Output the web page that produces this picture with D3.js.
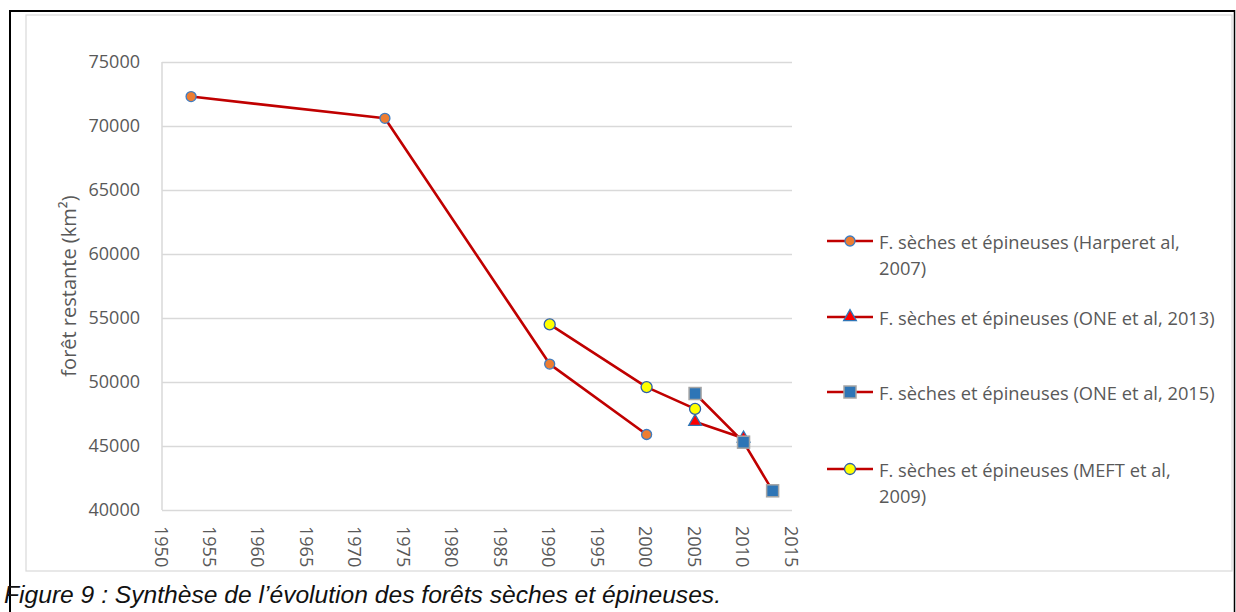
<!DOCTYPE html>
<html>
<head>
<meta charset="utf-8">
<script src="https://cdn.jsdelivr.net/npm/d3@7/dist/d3.min.js"></script>
<style>
  html, body { margin: 0; padding: 0; background: #fff; }
  svg { display: block; }
</style>
</head>
<body>
<svg id="chart" width="1236" height="612"></svg>
<script>
// ---- data ----
const harperYears  = [1953, 1973, 1990, 2000];
const harperValues = [72300, 70600, 51400, 45900];
const one2013Years  = [2005, 2010];
const one2013Values = [46900, 45600];
const one2015Years  = [2005, 2010, 2013];
const one2015Values = [49100, 45300, 41500];
const meftYears  = [1990, 2000, 2005];
const meftValues = [54500, 49600, 47900];
const seriesNames = [
  ["F. sèches et épineuses (Harperet al,", "2007)"],
  ["F. sèches et épineuses (ONE et al, 2013)"],
  ["F. sèches et épineuses (ONE et al, 2015)"],
  ["F. sèches et épineuses (MEFT et al,", "2009)"]
];
const xTicks = [1950, 1955, 1960, 1965, 1970, 1975, 1980, 1985, 1990, 1995, 2000, 2005, 2010, 2015];
const yTicks = [40000, 45000, 50000, 55000, 60000, 65000, 70000, 75000];
const yTitle = "forêt restante (km²)";
const caption = "Figure 9 : Synthèse de l’évolution des forêts sèches et épineuses.";

// ---- layout ----
const svg = d3.select("#chart");
const plot = { left: 162, right: 792, top: 62, bottom: 510 };
const x = d3.scaleLinear().domain([1950, 2015]).range([plot.left, plot.right]);
const y = d3.scaleLinear().domain([40000, 75000]).range([plot.bottom, plot.top]);
const tickFont = "'Open Sans', sans-serif";
const textCol = "#595959";
const lineCol = "#C00000";

// outer page borders (table cell)
svg.append("line").attr("x1", 10).attr("x2", 1235).attr("y1", 11).attr("y2", 11).attr("stroke", "#000").attr("stroke-width", 2);
svg.append("line").attr("x1", 10).attr("x2", 10).attr("y1", 10).attr("y2", 612).attr("stroke", "#000").attr("stroke-width", 2);
svg.append("line").attr("x1", 1234.5).attr("x2", 1234.5).attr("y1", 10).attr("y2", 612).attr("stroke", "#000").attr("stroke-width", 1.5);

// chart frame
svg.append("rect").attr("x", 26).attr("y", 15).attr("width", 1206).attr("height", 556)
  .attr("fill", "#fff").attr("stroke", "#d9d9d9").attr("stroke-width", 1.2);

// gridlines via axis
const yGrid = d3.axisLeft(y).tickValues(yTicks).tickSize(-(plot.right - plot.left)).tickFormat("");
svg.append("g").attr("transform", `translate(${plot.left},0)`).call(yGrid)
  .call(g => g.select(".domain").remove())
  .call(g => g.selectAll("line").attr("stroke", "#d9d9d9").attr("stroke-width", 1.5));
// left axis line
svg.append("line").attr("x1", plot.left).attr("x2", plot.left).attr("y1", plot.top).attr("y2", plot.bottom)
  .attr("stroke", "#d9d9d9").attr("stroke-width", 1.5);

// y tick labels
const yAxis = d3.axisLeft(y).tickValues(yTicks).tickSize(0).tickPadding(22).tickFormat(d3.format("d"));
svg.append("g").attr("transform", `translate(${plot.left},0)`).call(yAxis)
  .call(g => g.select(".domain").remove())
  .call(g => g.selectAll("text").attr("font-family", tickFont).attr("font-size", 18).attr("fill", textCol));

// x tick labels rotated
const xAxis = d3.axisBottom(x).tickValues(xTicks).tickSize(0).tickFormat(d3.format("d"));
const xg = svg.append("g").attr("transform", `translate(0,${plot.bottom})`).call(xAxis);
xg.select(".domain").remove();
xg.selectAll("text")
  .attr("font-family", tickFont).attr("font-size", 18).attr("fill", textCol)
  .attr("text-anchor", "start").attr("dy", null).attr("y", 0)
  .attr("dominant-baseline", "central")
  .attr("transform", "translate(-1,16) rotate(90)");

// y title
svg.append("text").attr("transform", `translate(68,${(plot.top + plot.bottom) / 2}) rotate(-90)`)
  .attr("text-anchor", "middle").attr("dominant-baseline", "central")
  .attr("font-family", tickFont).attr("font-size", 20).attr("fill", textCol).text(yTitle);

// ---- series ----
const line = d3.line().x(d => x(d[0])).y(d => y(d[1]));
const series = [
  { years: harperYears, values: harperValues, marker: "circleO" },
  { years: one2013Years, values: one2013Values, marker: "triangle" },
  { years: one2015Years, values: one2015Values, marker: "square" },
  { years: meftYears, values: meftValues, marker: "circleY" }
];

function drawMarker(g, type, cx, cy) {
  if (type === "circleO") {
    g.append("circle").attr("cx", cx).attr("cy", cy).attr("r", 5)
      .attr("fill", "#ED7D31").attr("stroke", "#3F7CC0").attr("stroke-width", 1.3);
  } else if (type === "circleY") {
    g.append("circle").attr("cx", cx).attr("cy", cy).attr("r", 5.5)
      .attr("fill", "#FFFF00").attr("stroke", "#2E5FA8").attr("stroke-width", 1.3);
  } else if (type === "triangle") {
    g.append("path").attr("transform", `translate(${cx},${cy})`)
      .attr("d", d3.symbol().type(d3.symbolTriangle).size(70)())
      .attr("fill", "#FF0000").attr("stroke", "#2E75B6").attr("stroke-width", 1.3);
  } else if (type === "square") {
    g.append("rect").attr("x", cx - 6).attr("y", cy - 6).attr("width", 12).attr("height", 12)
      .attr("fill", "#2E75B6").attr("stroke", "#A5A5A5").attr("stroke-width", 1.5);
  }
}

const sg = svg.append("g");
series.forEach(s => {
  const pts = s.years.map((yr, i) => [yr, s.values[i]]);
  sg.append("path").datum(pts).attr("d", line).attr("fill", "none")
    .attr("stroke", lineCol).attr("stroke-width", 2.6).attr("stroke-linejoin", "round");
  pts.forEach(p => drawMarker(sg, s.marker, x(p[0]), y(p[1])));
});

// ---- legend ----
const legendY = [241, 317, 392, 469];
const lg = svg.append("g");
series.forEach((s, i) => {
  const ly = legendY[i];
  lg.append("line").attr("x1", 827).attr("x2", 873).attr("y1", ly).attr("y2", ly)
    .attr("stroke", lineCol).attr("stroke-width", 2.6);
  drawMarker(lg, s.marker, 850, ly);
  const t = lg.append("text").attr("font-family", tickFont).attr("font-size", 18.3).attr("fill", textCol);
  seriesNames[i].forEach((ln, j) => {
    t.append("tspan").attr("x", 879).attr("y", ly + j * 26).attr("dominant-baseline", "central").text(ln);
  });
});

// caption
svg.append("text").attr("x", 4).attr("y", 603)
  .attr("font-family", "'Liberation Sans', Arial, sans-serif").attr("font-style", "italic")
  .attr("font-size", 23).attr("fill", "#111")
  .attr("textLength", 717).attr("lengthAdjust", "spacingAndGlyphs")
  .text(caption);
</script>
</body>
</html>
